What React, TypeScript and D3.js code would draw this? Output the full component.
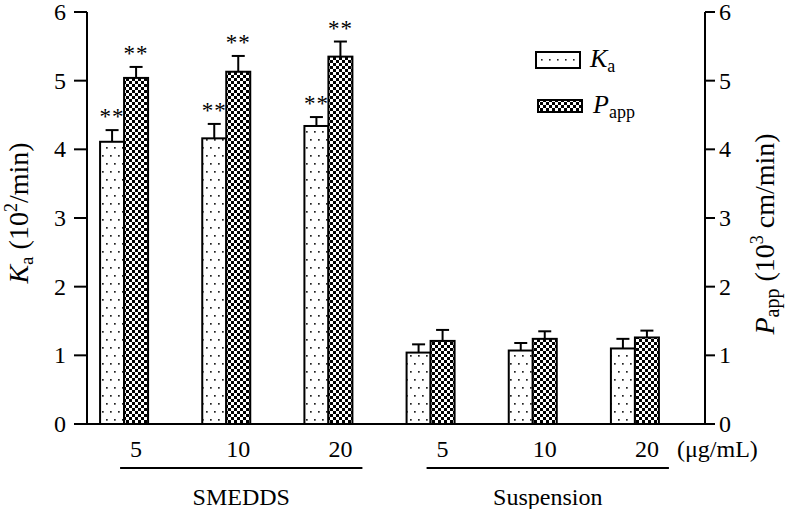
import React from "react";
import * as d3 from "d3";

const categories = ["5", "10", "20", "5", "10", "20"];
const groups = [
  { name: "SMEDDS", from: 0, to: 2 },
  { name: "Suspension", from: 3, to: 5 },
];
const kaValues = [4.11, 4.16, 4.34, 1.04, 1.07, 1.1];
const kaErrors = [0.17, 0.21, 0.13, 0.12, 0.11, 0.14];
const pappValues = [5.04, 5.13, 5.35, 1.21, 1.24, 1.26];
const pappErrors = [0.16, 0.23, 0.22, 0.16, 0.11, 0.1];
const kaStars = [true, true, true, false, false, false];
const pappStars = [true, true, true, false, false, false];
const yTicks = [0, 1, 2, 3, 4, 5, 6];

const W = 791;
const H = 509;
const FONT = "'Liberation Serif', 'Times New Roman', Times, 'DejaVu Serif', serif";

export default function App() {
  const y = d3.scaleLinear().domain([0, 6]).range([424, 12]);
  const yR = d3.scaleLinear().domain([0, 6]).range([424, 12]);
  const x = d3
    .scaleBand<number>()
    .domain(categories.map((_, i) => i))
    .range([73, 686])
    .paddingInner(0)
    .paddingOuter(0);
  const barW = 24;
  const center = (i: number) => (x(i) as number) + x.bandwidth() / 2;
  const series = [
    { key: "ka", values: kaValues, errors: kaErrors, stars: kaStars, fill: "url(#dots)", off: -barW },
    { key: "papp", values: pappValues, errors: pappErrors, stars: pappStars, fill: "url(#checker)", off: 0 },
  ];
  const leftX = 87;
  const rightX = 705;
  const ts = { fontFamily: FONT };

  return (
    <svg
      width={W}
      height={H}
      style={{ position: "absolute", left: 0, top: 0, background: "#fff", fontFamily: FONT }}
    >
      <defs>
        <pattern id="dots" patternUnits="userSpaceOnUse" width="8" height="16">
          <rect width="8" height="16" fill="#fff" />
          <rect x="2" y="3" width="1.7" height="1.7" fill="#222" />
          <rect x="6" y="11" width="1.7" height="1.7" fill="#222" />
        </pattern>
        <pattern id="dotsLegend" patternUnits="userSpaceOnUse" width="8" height="18" x="537" y="51">
          <rect width="8" height="18" fill="#fff" />
          <rect x="4" y="8" width="1.6" height="1.6" fill="#222" />
        </pattern>
        <pattern id="checker" patternUnits="userSpaceOnUse" width="6" height="6">
          <rect width="6" height="6" fill="#fff" />
          <rect x="0" y="0" width="3" height="3" fill="#000" />
          <rect x="3" y="3" width="3" height="3" fill="#000" />
        </pattern>
      </defs>

      {/* bars */}
      {series.map((s) =>
        s.values.map((v, i) => {
          const bx = center(i) + s.off;
          const top = y(v);
          const cap = y(v + s.errors[i]);
          const cx = bx + barW / 2;
          return (
            <g key={s.key + i}>
              <rect x={bx} y={top} width={barW} height={y(0) - top} fill={s.fill} stroke="#000" strokeWidth={2} />
              <line x1={cx} x2={cx} y1={top} y2={cap} stroke="#000" strokeWidth={2} />
              <line x1={cx - 6.5} x2={cx + 6.5} y1={cap} y2={cap} stroke="#000" strokeWidth={2} />
              {s.stars[i] && (
                <text x={cx} y={cap - 6} textAnchor="middle" fontSize={23} letterSpacing={1} fill="#000" style={ts}>
                  **
                </text>
              )}
            </g>
          );
        })
      )}

      {/* axes */}
      <line x1={leftX} x2={leftX} y1={y(6)} y2={y(0)} stroke="#000" strokeWidth={2} />
      <line x1={rightX} x2={rightX} y1={yR(6)} y2={yR(0)} stroke="#000" strokeWidth={2} />
      <line x1={74} x2={715} y1={y(0)} y2={y(0)} stroke="#000" strokeWidth={2} />
      {yTicks.map((t) => (
        <g key={"l" + t}>
          <line x1={74} x2={leftX} y1={y(t)} y2={y(t)} stroke="#000" strokeWidth={2} />
          <text x={66} y={y(t) + 8} textAnchor="end" fontSize={24} fill="#000" style={ts}>
            {t}
          </text>
        </g>
      ))}
      {yTicks.map((t) => (
        <g key={"r" + t}>
          <line x1={rightX} x2={715} y1={yR(t)} y2={yR(t)} stroke="#000" strokeWidth={2} />
          <text x={719} y={yR(t) + 8} textAnchor="start" fontSize={24} fill="#000" style={ts}>
            {t}
          </text>
        </g>
      ))}

      {/* category labels */}
      {categories.map((c, i) => (
        <text key={"c" + i} x={center(i) + 12} y={457} textAnchor="middle" fontSize={24} fill="#000" style={ts}>
          {c}
        </text>
      ))}
      <text x={677} y={457} textAnchor="start" fontSize={24} fill="#000" style={ts}>
        (μg/mL)
      </text>
      {groups.map((g) => {
        const x1 = center(g.from) - 4;
        const x2 = center(g.to) + 34;
        return (
          <g key={g.name}>
            <line x1={x1} x2={x2} y1={468} y2={468} stroke="#000" strokeWidth={2} />
            <text x={(x1 + x2) / 2} y={505} textAnchor="middle" fontSize={24} fill="#000" style={ts}>
              {g.name}
            </text>
          </g>
        );
      })}

      {/* axis titles */}
      <text transform="translate(28,213) rotate(-90)" textAnchor="middle" fontSize={28} fill="#000" style={ts}>
        <tspan fontStyle="italic">K</tspan>
        <tspan fontSize={19} dy={5}>a</tspan>
        <tspan dy={-5}> (10</tspan>
        <tspan fontSize={18} dy={-11}>2</tspan>
        <tspan dy={11}>/min)</tspan>
      </text>
      <text transform="translate(774,234) rotate(-90)" textAnchor="middle" fontSize={28} fill="#000" style={ts}>
        <tspan fontStyle="italic">P</tspan>
        <tspan fontSize={20} dy={5}>app</tspan>
        <tspan dy={-5}> (10</tspan>
        <tspan fontSize={18} dy={-11}>3</tspan>
        <tspan dy={11}> cm/min)</tspan>
      </text>

      {/* legend */}
      <rect x={536} y={52} width={44} height={16} fill="url(#dotsLegend)" stroke="#000" strokeWidth={2} />
      <text x={590} y={67} fontSize={26} fill="#000" style={ts}>
        <tspan fontStyle="italic">K</tspan>
        <tspan fontSize={18} dy={5}>a</tspan>
      </text>
      <rect x={538} y={100} width={44} height={12} fill="url(#checker)" stroke="#000" strokeWidth={2} />
      <text x={593} y={113} fontSize={26} fill="#000" style={ts}>
        <tspan fontStyle="italic">P</tspan>
        <tspan fontSize={18} dy={5}>app</tspan>
      </text>
    </svg>
  );
}
